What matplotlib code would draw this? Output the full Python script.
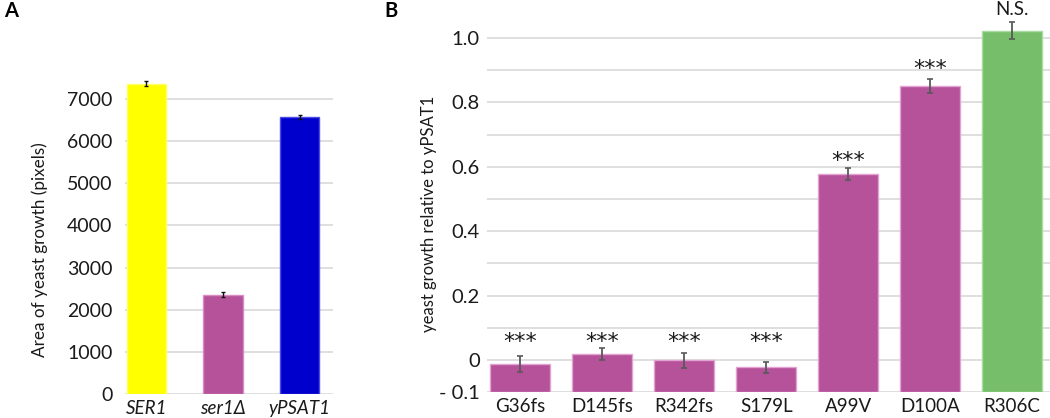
import matplotlib
matplotlib.use("Agg")
import matplotlib.pyplot as plt
import matplotlib.transforms as mtransforms
import numpy as np

plt.rcParams['font.family'] = ['Lato', 'DejaVu Sans']

# Panel A data
a_labels = ["SER1", "ser1Δ", "yPSAT1"]
a_values = [7355, 2358, 6566]
a_errors = [62, 58, 50]
a_colors = ["#FFFF00", "#B55299", "#0000CC"]
a_edges = ["#FFFF66", "#D98BC3", "#4D4DE6"]

# Panel B data
b_labels = ["G36fs", "D145fs", "R342fs", "S179L", "A99V", "D100A", "R306C"]
b_values = [-0.013, 0.019, -0.001, -0.023, 0.577, 0.852, 1.023]
b_errors = [0.025, 0.018, 0.023, 0.018, 0.019, 0.022, 0.027]
b_signif = ["***", "***", "***", "***", "***", "***", "N.S."]
b_sig_y = [0.072, 0.072, 0.072, 0.072, 0.634, 0.92, 1.09]
b_colors = ["#B55299"] * 6 + ["#76BE69"]
b_edges = ["#E3A3D2"] * 6 + ["#A8DCA0"]
b_ticks = [-0.1, 0, 0.2, 0.4, 0.6, 0.8, 1.0]
b_ticklabels = ["- 0.1", "0", "0.2", "0.4", "0.6", "0.8", "1.0"]
b_minor = [0.1, 0.3, 0.5, 0.7, 0.9]

W, H = 1050, 418
fig = plt.figure(figsize=(W / 100, H / 100), dpi=100)

grid_c = "#D9D9D9"
txt_c = "#1A1A1A"

# ---------- Panel A ----------
axA = fig.add_axes([125 / W, (H - 394.3) / H, 207.7 / W, (394.3 - 73.3) / H])
xa = np.arange(len(a_labels))
axA.bar(xa, a_values, width=0.51, color=a_colors, edgecolor=a_edges, linewidth=1, zorder=2)
axA.errorbar(xa, a_values, yerr=a_errors, fmt="none", ecolor="#111111",
             elinewidth=1, capsize=1.5, capthick=1, zorder=3)
axA.set_xlim(-0.278, 2.43)
axA.set_ylim(0, 7600)
axA.set_yticks(np.arange(0, 7001, 1000))
axA.yaxis.grid(True, color=grid_c, linewidth=1.2, zorder=0)
axA.set_axisbelow(True)
for s in axA.spines.values():
    s.set_visible(False)
axA.tick_params(axis="y", length=0, labelsize=14, colors=txt_c, pad=9)
axA.set_xticks(xa)
axA.set_xticklabels(a_labels, fontstyle="italic", fontsize=13.5)
axA.tick_params(axis="x", length=0, colors=txt_c, pad=4)
axA.set_ylabel("Area of yeast growth (pixels)", fontsize=12.3, color=txt_c)
axA.yaxis.set_label_coords((48 - 125) / 207.7, 0.451)

# ---------- Panel B ----------
axB = fig.add_axes([486.7 / W, (H - 392.3) / H, (W - 486.7) / W, (392.3 - 5.8) / H])
xb = np.arange(len(b_labels))
base = -0.1
axB.bar(xb, [v - base for v in b_values], bottom=base, width=0.73,
        color=b_colors, edgecolor=b_edges, linewidth=1, zorder=2)
axB.errorbar(xb, b_values, yerr=b_errors, fmt="none", ecolor="#595959",
             elinewidth=1.3, capsize=2.5, capthick=1.2, zorder=3)
shift = mtransforms.offset_copy(axB.transData, fig=fig, x=0, y=-5, units="dots")
for x, s, y in zip(xb, b_signif, b_sig_y):
    if s == "N.S.":
        axB.text(x, y, s, ha="center", va="center", fontsize=13.5, color=txt_c, clip_on=False)
    else:
        axB.text(x, y, s, ha="center", va="center", fontsize=16, color=txt_c,
                 family="DejaVu Sans", clip_on=False, transform=shift)
axB.set_xlim(-0.41, 6.463)
axB.set_ylim(-0.1, 1.1)
axB.set_yticks(b_ticks)
axB.set_yticklabels(b_ticklabels)
axB.set_yticks(b_minor, minor=True)
axB.yaxis.grid(True, which="both", color=grid_c, linewidth=1.2, zorder=0)
axB.set_axisbelow(True)
for s in axB.spines.values():
    s.set_visible(False)
axB.tick_params(axis="y", which="both", length=0, labelsize=14.5, colors=txt_c, pad=5)
axB.set_xticks(xb)
axB.set_xticklabels(b_labels, fontsize=13.5)
axB.tick_params(axis="x", length=0, colors=txt_c, pad=4)
axB.set_ylabel("yeast growth relative to yPSAT1", fontsize=12, color=txt_c)
axB.yaxis.set_label_coords((437 - 486.7) / (W - 486.7), 0.461)

fig.text(4 / W, 1 - 11 / H, "A", fontsize=14.5, fontweight="bold", va="center", ha="left")
fig.text(384 / W, 1 - 11 / H, "B", fontsize=14.5, fontweight="bold", va="center", ha="left")

fig.savefig("out.png", dpi=100)
